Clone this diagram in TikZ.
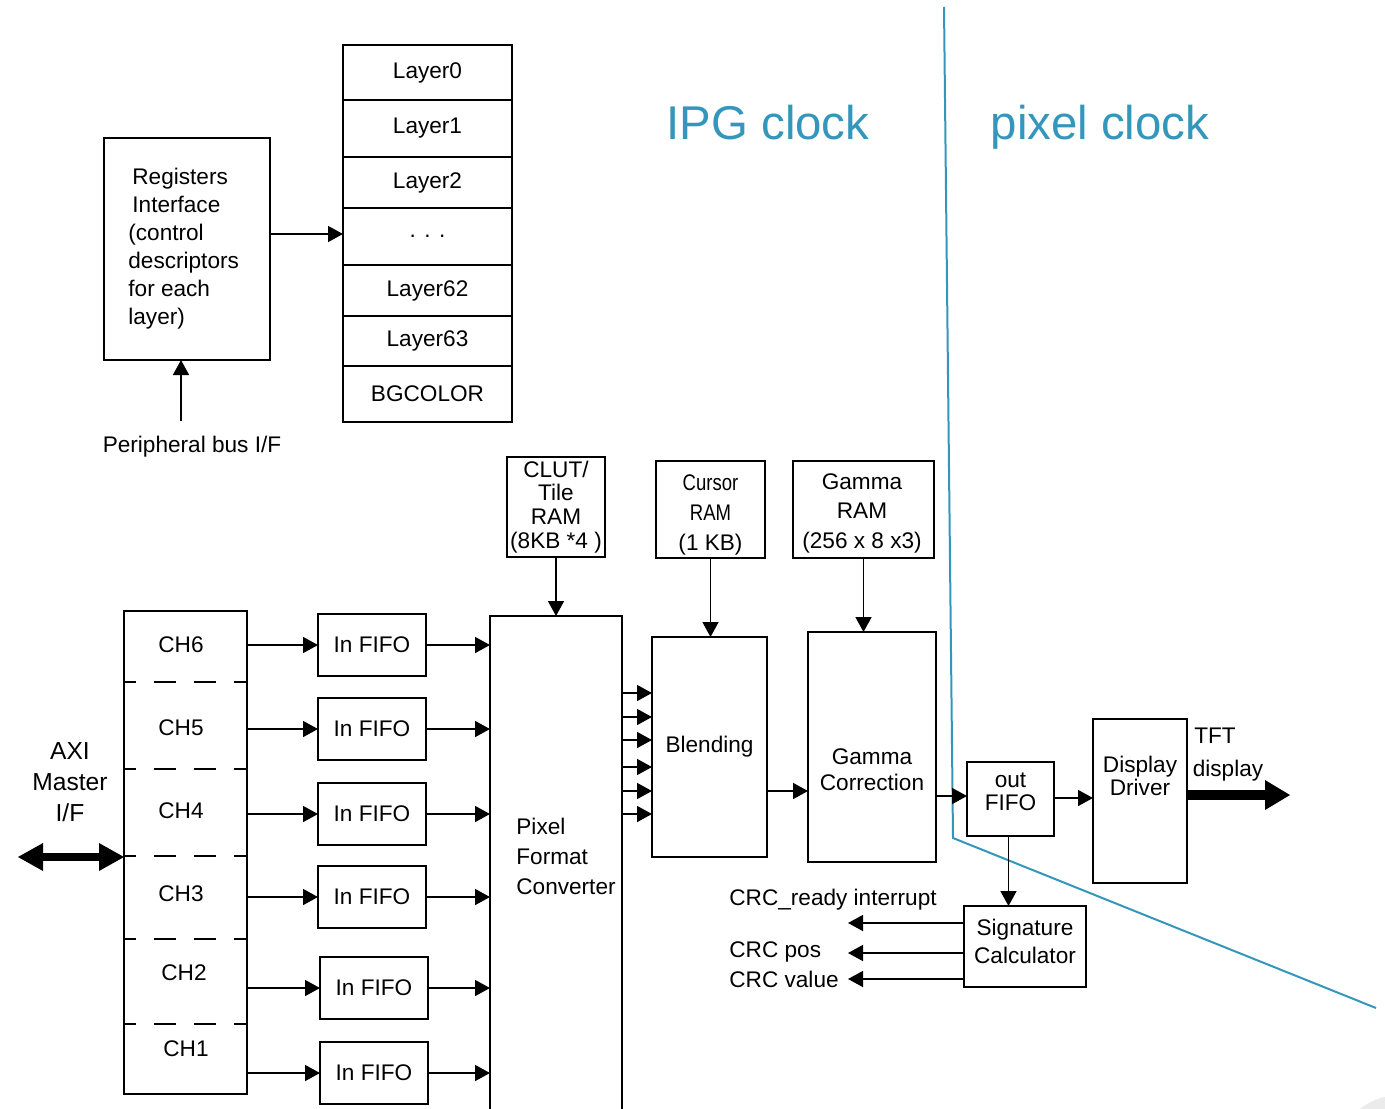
\documentclass[tikz,border=0pt]{standalone}
\usepackage{fontspec}
\setmainfont{Liberation Sans}
\usepackage{graphicx}
\usetikzlibrary{arrows.meta,positioning}
\definecolor{clockblue}{RGB}{52,150,187}
\tikzset{
  blk/.style={draw, line width=0.75pt, inner sep=0pt, outer sep=0pt},
  layer/.style={blk, minimum width=84.5pt},
  fifo/.style={blk, minimum width=54pt, minimum height=31pt},
  arr/.style={line width=0.75pt, -{Triangle[length=7.5pt,width=8pt]}},
  fat/.style={line width=5pt, -{Triangle[length=12.5pt,width=15pt,line width=0pt]}},
  fatboth/.style={line width=4pt, {Triangle[length=12.5pt,width=14pt,line width=0pt]}-{Triangle[length=12.5pt,width=14pt,line width=0pt]}},
  divider/.style={line width=0.75pt, dash pattern=on 11pt off 9pt, dash phase=5pt},
  clocktxt/.style={text=clockblue, anchor=base, font=\fontsize{23.7}{28}\selectfont},
}
\begin{document}
\begin{tikzpicture}[x=0.5pt, y=-0.5pt, every node/.style={font=\fontsize{11.3}{14}\selectfont}]
\useasboundingbox (0,0) rectangle (1385,1108);
\clip (0,0) rectangle (1385,1108);
\fill[black!8] (1400,1160) circle (32.5pt);

% clock domains
\node[clocktxt] (ipg) at (768,139) {IPG clock};
\node[clocktxt] (pixclk) at (1100,139) {pixel clock};
\coordinate (b1) at (944,7);
\coordinate (b2) at (953,838);
\coordinate (b3) at (1376,1008);
\draw[clockblue, line width=1pt] (b1) -- (b2) -- (b3);

% register interface
\node[blk, minimum width=83pt, minimum height=111pt] (regs) at (187,249) {};
\node[align=left, anchor=west, inner sep=0pt] (regstxt) at (128,249)
  {\hspace*{2pt}Registers\\\hspace*{2pt}Interface\\(control\\descriptors\\for each\\layer)};
\node (periph) at (192,447) {Peripheral bus I/F};
\draw[arr] ([yshift=4pt,xshift=-3pt]periph.north -| regs.south) -- ([xshift=-3pt]regs.south);

\node[layer, minimum height=27.5pt] (l0) at (427.5,72.5) {Layer0};
\node[layer, minimum height=28.5pt, below=0pt of l0] (l1) {Layer1};
\node[layer, minimum height=25.5pt, below=0pt of l1] (l2) {Layer2};
\node[layer, minimum height=28.5pt, below=0pt of l2] (ldots) {. . .};
\node[layer, minimum height=25.5pt, below=0pt of ldots] (l62) {Layer62};
\node[layer, minimum height=25pt, below=0pt of l62] (l63) {Layer63};
\node[layer, minimum height=28pt, below=0pt of l63] (bg) {BGCOLOR};
\draw[arr] (regs.east |- 0,234) -- (ldots.west |- 0,234);

% memories
\node[blk, minimum width=49pt, minimum height=50pt, align=center, font=\fontsize{11.3}{11.9}\selectfont] (clut) at (556,507) {CLUT/\\Tile\\RAM\\(8KB *4 )};
\node[blk, minimum width=54.5pt, minimum height=48.5pt] (cursor) at (710.5,509.5) {};
\node[align=center, font=\fontsize{11.3}{15}\selectfont] (cursortxt) at (710.5,515) {\scalebox{0.82}[1]{Cursor}\\\scalebox{0.82}[1]{RAM}\\(1 KB)};
\node[blk, minimum width=70.5pt, minimum height=48.5pt] (gram) at (863.5,509.5) {};
\node[align=center, font=\fontsize{11.3}{14.75}\selectfont] (gramtxt) at (862,513) {Gamma\\RAM\\(256 x 8 x3)};

% channels
\node[blk, minimum width=61.5pt, minimum height=241.5pt] (ch) at (185.5,852.5) {};
\foreach \y in {682,769,856,939,1024}
  \draw[divider] (ch.west |- 0,\y) -- (ch.east |- 0,\y);
\node (ch6) at (181,645) {CH6};
\node (ch5) at (181,728) {CH5};
\node (ch4) at (181,811) {CH4};
\node (ch3) at (181,894) {CH3};
\node (ch2) at (184,973) {CH2};
\node (ch1) at (186,1049) {CH1};

\node[font=\fontsize{12.3}{15.5}\selectfont, align=center] (axi) at (70,782) {AXI\\Master\\I/F};
\coordinate (axiend) at (18,857);
\draw[fatboth] (axiend) -- (ch.west |- axiend);

\foreach \n/\x/\y in {6/372/645, 5/372/729, 4/372/814, 3/372/897, 2/374/988, 1/374/1073}
  \node[fifo] (f\n) at (\x,\y) {In FIFO};

\node[blk, minimum width=66pt, minimum height=260pt] (pfc) at (556,876) {};
\node[align=left, anchor=west, inner sep=0pt, font=\fontsize{11.3}{15}\selectfont] (pfctxt) at (516,856) {Pixel\\Format\\Converter};

\foreach \n in {1,...,6} {
  \draw[arr] (ch.east |- f\n.west) -- (f\n.west);
  \draw[arr] (f\n.east) -- (f\n.east -| pfc.west);
}

% pipeline
\node[blk, minimum width=57.5pt, minimum height=110pt] (blend) at (709.5,747) {Blending};
\node[blk, minimum width=64pt, minimum height=115pt] (gc) at (872,747) {};
\node[align=center, font=\fontsize{11.3}{13}\selectfont] (gctxt) at (872,770) {Gamma\\Correction};
\node[blk, minimum width=43.5pt, minimum height=37pt] (ofifo) at (1010.5,799) {};
\node[align=center, font=\fontsize{11.3}{11.5}\selectfont] (ofifotxt) at (1010.5,792) {out\\FIFO};
\node[blk, minimum width=47pt, minimum height=82pt] (dd) at (1140,801) {};
\node[align=center, font=\fontsize{11.3}{11.5}\selectfont] (ddtxt) at (1140,776) {Display\\Driver};
\node[blk, minimum width=61pt, minimum height=40.5pt] (sig) at (1025,946.5) {};
\node[align=center] (sigtxt) at (1025,941) {Signature\\Calculator};

\draw[arr] (clut.south) -- (clut.south |- pfc.north);
\draw[arr] (cursor.south) -- (cursor.south |- blend.north);
\draw[arr] (gram.south) -- (gram.south |- gc.north);
\foreach \y in {693,717,740,767,791,814}
  \draw[arr] (pfc.east |- 0,\y) -- (blend.west |- 0,\y);
\draw[arr] (blend.east |- 0,791) -- (gc.west |- 0,791);
\draw[arr] (gc.east |- 0,796) -- (ofifo.west |- 0,796);
\draw[arr] (ofifo.east |- 0,798) -- (dd.west |- 0,798);
\draw[arr] ([xshift=-1pt]ofifo.south) -- ([xshift=-1pt]ofifo.south |- sig.north);

\node (tft) at (1215,736) {TFT};
\node (tftdisp) at (1228,771) {display};
\coordinate (tftend) at (1290,795);
\draw[fat] (dd.east |- tftend) -- (tftend);

% CRC outputs
\node[anchor=west, inner sep=0pt] (crcrdy) at (729,900) {CRC\_ready interrupt};
\node[anchor=west, inner sep=0pt] (crcpos) at (729,952) {CRC pos};
\node[anchor=west, inner sep=0pt] (crcval) at (729,979) {CRC value};
\coordinate (crc1) at (848,923);
\coordinate (crc2) at (848,953);
\coordinate (crc3) at (848,979);
\foreach \c in {1,2,3}
  \draw[arr] (sig.west |- crc\c) -- (crc\c);
\end{tikzpicture}
\end{document}
